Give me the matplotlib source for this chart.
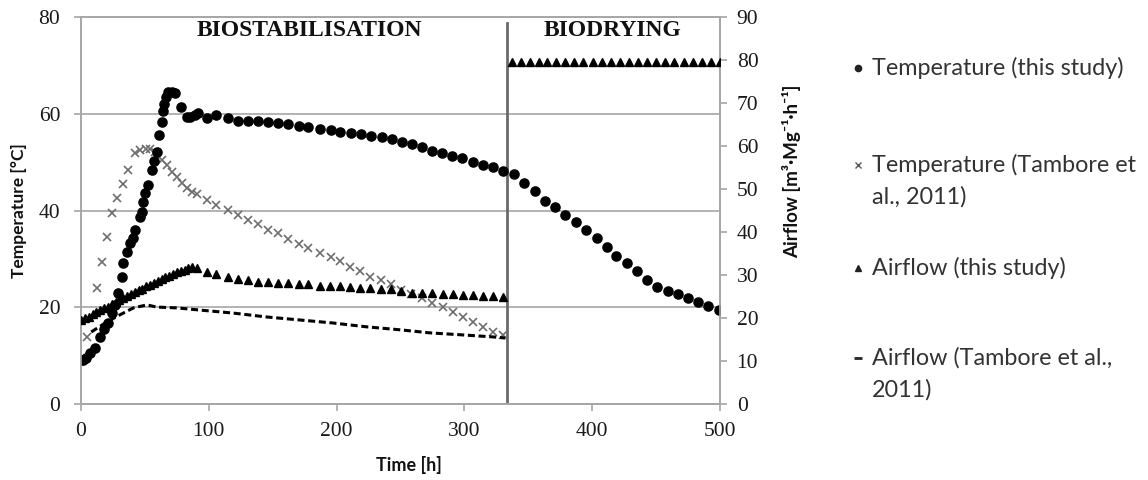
import matplotlib
matplotlib.use("Agg")
import matplotlib.pyplot as plt
from matplotlib.lines import Line2D

# ---------------- data ----------------
temp_study_h = [0, 1.5, 4, 7, 11, 15, 18, 21, 24, 26.5,
                29, 32, 33, 36, 38, 40.5, 42, 46, 47.5, 48.5,
                50, 52.5, 55.5, 57, 59.5, 61, 63.5, 64, 65, 66.5,
                68, 71, 73.5, 78, 83, 85, 89, 91.5, 98.6, 106,
                115, 123, 131, 138.5, 146, 154, 162, 170.6, 178, 187,
                195.6, 203, 211, 219, 227, 235.5, 243, 251, 259, 267,
                274.6, 282.5, 290, 298, 306.7, 314.6, 322, 330, 339, 347,
                355, 363, 371, 379, 387, 395, 404, 411.6, 419, 427,
                435, 443, 451, 459, 467, 475, 483, 491, 499]
temp_study_T = [9.2, 9.1, 9.6, 10.5, 11.6, 14, 15.5, 16.8, 18.8, 20.5,
                23, 26.3, 29.2, 31.5, 33.3, 34.4, 36, 38.7, 39.7, 41.8,
                43.7, 45.3, 48.4, 50.3, 52.1, 55.6, 58.3, 60.6, 62, 63.5,
                64.5, 64.5, 64.3, 61.4, 59.4, 59.4, 59.8, 60.2, 59.1, 59.8,
                59.2, 58.5, 58.5, 58.5, 58.3, 58.1, 57.9, 57.5, 57.3, 56.9,
                56.7, 56.3, 56.0, 55.8, 55.5, 55.3, 54.8, 54.2, 53.8, 53.2,
                52.4, 51.9, 51.3, 50.8, 50.0, 49.4, 49.0, 48.2, 47.6, 45.8,
                44.0, 42.0, 40.7, 39.0, 37.6, 35.9, 34.3, 32.5, 30.7, 29.2,
                27.6, 25.7, 24.3, 23.5, 22.8, 22.0, 21.1, 20.3, 19.5]

temp_tambore_h = [4.6, 12.3, 16.6, 20, 24, 28, 33, 36.6, 42, 46,
                  50.6, 54, 58, 63, 67, 71, 75, 79, 83, 86.6,
                  91, 98.6, 106, 115, 123, 131, 138.5, 146, 154, 162,
                  170.6, 178, 187, 195.6, 203, 210.5, 218, 226, 234.7, 242.6,
                  250, 258, 267, 275, 283, 291, 299, 306.7, 314.6, 322,
                  330]
temp_tambore_T = [13.9, 24, 29.3, 34.5, 39.5, 42.6, 45.5, 48.4, 52, 52.6,
                  52.8, 52.8, 52.1, 50.5, 49.5, 48, 47, 45.8, 44.7, 43.9,
                  43.4, 42.3, 41.2, 40.1, 39.2, 38, 37.2, 36.1, 35.3, 34.2,
                  33.1, 32.3, 31.2, 30.5, 29.5, 28.3, 27.5, 26.3, 25.7, 24.9,
                  23.6, 22.8, 22, 20.9, 20, 19.1, 18, 17, 16, 15,
                  14.3]

air_study_h = [0, 3, 6, 9, 12, 15, 18, 21, 24, 27,
               30, 33, 36, 39, 42, 45, 48, 51, 54, 57,
               60, 63, 66, 69, 72, 75, 78, 81, 84, 87,
               91, 98.6, 106, 115, 123, 131, 138.5, 146, 154, 162,
               170.6, 178, 187, 195, 203, 210.5, 218, 226, 235, 242.6,
               250, 259, 267, 275, 283, 291, 299, 307, 314.6, 322,
               330,
               337, 344, 351, 358, 365, 372, 379, 386, 393, 401,
               408, 415, 422, 429, 436, 443, 450, 457, 464, 472,
               479, 486, 493, 500]
air_study_A = [19.6, 20.0, 20.4, 20.9, 21.4, 21.8, 22.3, 22.7, 23.3, 23.7,
               24.2, 24.6, 25.1, 25.6, 26.0, 26.5, 26.9, 27.4, 27.8, 28.3,
               28.7, 29.1, 29.5, 29.9, 30.3, 30.7, 31.0, 31.3, 31.6, 31.8,
               31.7, 30.8, 30.3, 29.6, 29.1, 28.8, 28.5, 28.4, 28.2, 28.2,
               28.0, 27.9, 27.6, 27.5, 27.4, 27.3, 27.1, 27.1, 26.9, 26.9,
               26.4, 25.9, 25.9, 25.9, 25.6, 25.6, 25.4, 25.4, 25.2, 25.1,
               24.9,
               79.6, 79.6, 79.6, 79.6, 79.6, 79.6, 79.6, 79.6, 79.6, 79.6,
               79.6, 79.6, 79.6, 79.6, 79.6, 79.6, 79.6, 79.6, 79.6, 79.6,
               79.6, 79.6, 79.6, 79.6]

air_tambore_h = [8, 20, 30.5, 41, 51.6, 59, 75, 93, 119, 145,
                 171, 197, 223.5, 250, 273, 300, 325, 332]
air_tambore_A = [16.8, 19.1, 20.8, 22.4, 23.1, 22.6, 22.4, 21.9, 21.2, 20.3,
                 19.6, 18.9, 18.0, 17.3, 16.6, 16.1, 15.6, 15.4]

phase_boundary_h = 333
phase_labels = ["BIOSTABILISATION", "BIODRYING"]
phase_label_h = [179, 415.5]

legend_labels = ["Temperature (this study)",
                 "Temperature (Tambore et\nal., 2011)",
                 "Airflow (this study)",
                 "Airflow (Tambore et al.,\n2011)"]

x_ticks = [0, 100, 200, 300, 400, 500]
temp_ticks = [0, 20, 40, 60, 80]
air_ticks = [0, 10, 20, 30, 40, 50, 60, 70, 80, 90]

# ---------------- figure ----------------
W, H = 1148, 480
fig = plt.figure(figsize=(W / 100, H / 100), dpi=100)
ax = fig.add_axes([81 / W, 1 - 404.3 / H, (720 - 81) / W, (404.3 - 17) / H])
ax2 = ax.twinx()

spine_col = "#a6a6a6"
serif = ["Liberation Serif", "DejaVu Serif"]
sans = ["Lato", "DejaVu Sans"]

ax.set_xlim(0, 500)
ax.set_ylim(0, 80)
ax2.set_ylim(0, 90)
ax.set_xticks(x_ticks)
ax.set_yticks(temp_ticks)
ax2.set_yticks(air_ticks)

for a in (ax, ax2):
    for s in a.spines.values():
        s.set_color(spine_col)
        s.set_linewidth(1.2)
    a.tick_params(colors=spine_col, length=5, width=1.2, labelcolor="#1a1a1a",
                  labelsize=15.5)
    for lab in a.get_xticklabels() + a.get_yticklabels():
        lab.set_family(serif)
ax.tick_params(axis="y", pad=10)
ax2.tick_params(axis="y", pad=7)
ax.tick_params(axis="x", pad=8)

ax.yaxis.grid(True, color=spine_col, linewidth=1.2)
ax.set_axisbelow(True)

# phase boundary
ax.axvline(phase_boundary_h, ymin=0, ymax=0.984, color="#6a6a6a", linewidth=2.0,
           zorder=1)

# series
ax.plot(temp_study_h, temp_study_T, linestyle="none", marker="o",
        markersize=6.6, color="black", zorder=4)
ax.plot(temp_tambore_h, temp_tambore_T, linestyle="none", marker="x",
        markersize=5.2, markeredgewidth=1.2, color="#6e6e6e", zorder=3)
ax2.plot(air_study_h, air_study_A, linestyle="none", marker="^",
         markersize=5.2, color="black", zorder=3)
ax2.plot(air_tambore_h, air_tambore_A, linestyle=(0, (2.3, 1.2)),
         linewidth=2.2, color="black", zorder=3)

# phase labels
for lbl, xh in zip(phase_labels, phase_label_h):
    ax.text(xh, 77.2, lbl, ha="center", va="center", family=serif,
            fontweight="bold", fontsize=17, color="#111111")

# axis labels
ax.set_xlabel("Time [h]", family=sans, fontweight="bold", fontsize=13,
              color="#111111", va="center")
ax.xaxis.set_label_coords((409 - 81) / 639, (404.3 - 465) / 387.3)
ax.set_ylabel("Temperature [°C]", family=sans, fontweight="bold",
              fontsize=12.5, color="#111111", va="center")
ax.yaxis.set_label_coords((19 - 81) / 639, 0.5)
ax2.set_ylabel("Airflow [m³·Mg⁻¹·h⁻¹]", family=sans, fontweight="bold",
               fontsize=13.5, color="#111111", va="center")
ax2.yaxis.set_label_coords((792 - 81) / 639, (404.3 - 171) / 387.3)

# manual legend
leg_marker_x = 858 / W
leg_text_x = 872 / W
leg_y = [68, 165, 268, 358]
line_gap = 32
leg_styles = [dict(marker="o", markersize=4.5, color="#222222", linestyle="none"),
              dict(marker="x", markersize=4.0, markeredgewidth=1.0,
                   color="#555555", linestyle="none"),
              dict(marker="^", markersize=4.2, color="#222222", linestyle="none"),
              dict(marker="_", markersize=6, markeredgewidth=2.0,
                   color="#222222", linestyle="none")]
for lbl, yy, st in zip(legend_labels, leg_y, leg_styles):
    fig.add_artist(Line2D([leg_marker_x], [1 - yy / H],
                          transform=fig.transFigure, **st))
    for i, part in enumerate(lbl.split("\n")):
        fig.text(leg_text_x, 1 - (yy + i * line_gap) / H, part, ha="left",
                 va="center", family=sans, fontsize=16.8, color="#333333")

fig.savefig("out.png", dpi=100)
